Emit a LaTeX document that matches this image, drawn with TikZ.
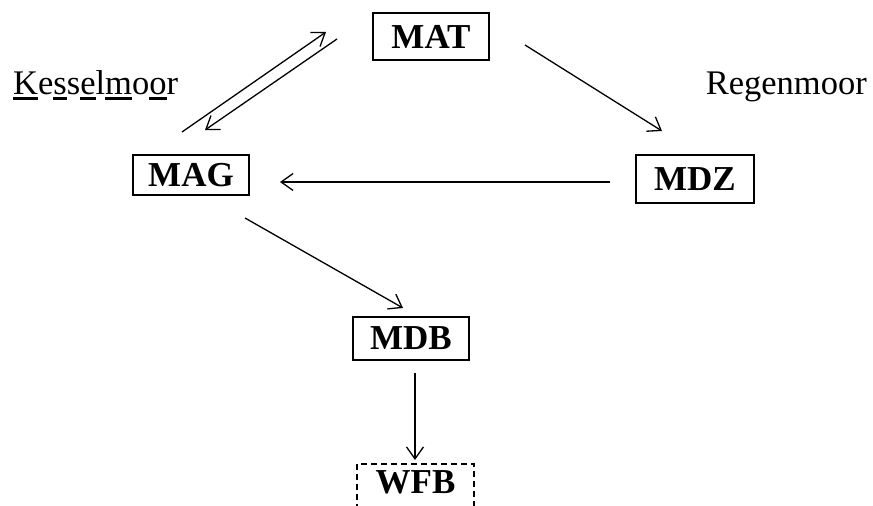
\documentclass[tikz,border=0pt]{standalone}
\usepackage{fontspec}
\setmainfont{Liberation Serif}
\usetikzlibrary{arrows.meta}
\newcommand\myul[1]{\setbox0\hbox{#1}\rlap{\rule[-6pt]{\wd0}{3pt}}\box0}
\begin{document}
\begin{tikzpicture}[x=1pt,y=1pt,
  boxnode/.style={draw,line width=1.3pt,inner sep=0pt,minimum width=116pt,
    font=\fontsize{35}{40}\selectfont\bfseries},
  plain/.style={inner sep=0pt,font=\fontsize{34.5}{40}\selectfont},
  conn/.style={line width=1.3pt,-{Straight Barb[length=12pt,width=17pt,line width=1.3pt]}}]
\useasboundingbox (0,0) rectangle (873,-506);
\clip (0,0) rectangle (873,-506);
\node[boxnode,minimum height=47pt] (mat) at (431,-36.5) {MAT};
\node[boxnode,minimum height=40pt] (mag) at (191,-175) {MAG};
\node[boxnode,minimum height=48pt,minimum width=118pt] (mdz) at (695,-179) {MDZ};
\node[boxnode,minimum height=43pt] (mdb) at (411,-338.5) {MDB};
\node[inner sep=0pt,font=\fontsize{35}{40}\selectfont\bfseries,anchor=base] (wfb) at (415.5,-493) {WFB};
\draw[line width=1.3pt,dash pattern=on 6pt off 4pt] (357,-520) |- (474,-464) -- (474,-520);
\node[plain,anchor=base west] (kessel) at (13,-94) {\myul{K}e\myul{s}s\myul{e}l\myul{m}o\myul{o}r};
\node[plain,anchor=base east] (regen) at (867,-94) {Regenmoor};
\coordinate (a1s) at (182,-132); \coordinate (a1e) at (326,-32);
\coordinate (a2s) at (337,-39);  \coordinate (a2e) at (205,-130);
\coordinate (a3s) at (525,-45);  \coordinate (a3e) at (662,-131);
\coordinate (a4s) at (610,-182); \coordinate (a4e) at (280,-182);
\coordinate (a5s) at (245,-218); \coordinate (a5e) at (403,-308);
\coordinate (a6s) at (415,-373); \coordinate (a6e) at (415,-460);
\draw[conn] (a1s) -- (a1e);
\draw[conn] (a2s) -- (a2e);
\draw[conn] (a3s) -- (a3e);
\draw[conn] (a4s) -- (a4e);
\draw[conn] (a5s) -- (a5e);
\draw[conn] (a6s) -- (a6e);
\end{tikzpicture}
\end{document}
